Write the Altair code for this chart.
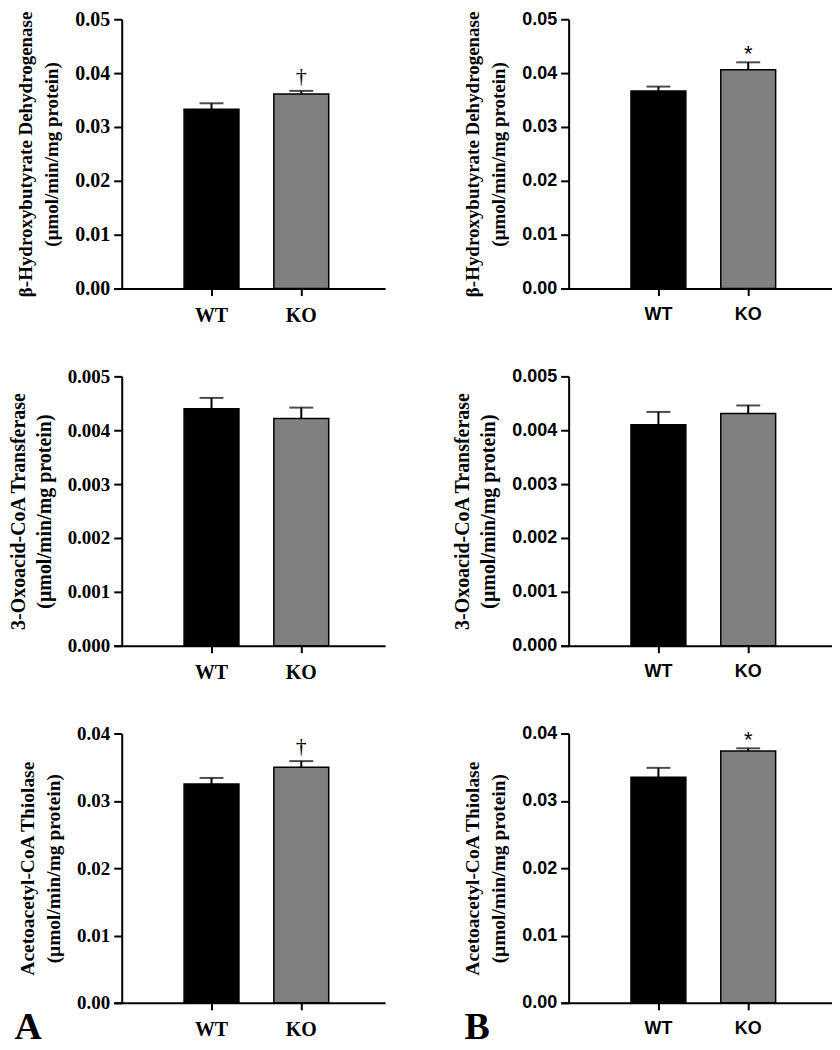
import altair as alt
import pandas as pd

groups = ["WT", "KO"]
bar_colors = ["#000000", "#808080"]

# Row 1: beta-hydroxybutyrate dehydrogenase
a_bdh_mean = [0.0333, 0.0361]
a_bdh_sem = [0.0011, 0.0006]
a_bdh_sig = ["", "†"]
b_bdh_mean = [0.0367, 0.0406]
b_bdh_sem = [0.0008, 0.0014]
b_bdh_sig = ["", "*"]

# Row 2: 3-oxoacid-CoA transferase
a_scot_mean = [0.00440, 0.00422]
a_scot_sem = [0.00020, 0.00020]
a_scot_sig = ["", ""]
b_scot_mean = [0.00410, 0.00431]
b_scot_sem = [0.00024, 0.00015]
b_scot_sig = ["", ""]

# Row 3: acetoacetyl-CoA thiolase
a_thl_mean = [0.0325, 0.0350]
a_thl_sem = [0.0009, 0.0009]
a_thl_sig = ["", "†"]
b_thl_mean = [0.0335, 0.0374]
b_thl_sem = [0.0014, 0.0004]
b_thl_sig = ["", "*"]

row1_ticks = [0.0, 0.01, 0.02, 0.03, 0.04, 0.05]
row2_ticks = [0.0, 0.001, 0.002, 0.003, 0.004, 0.005]
row3_ticks = [0.0, 0.01, 0.02, 0.03, 0.04]

row1_title = ["β-Hydroxybutyrate Dehydrogenase", "(μmol/min/mg protein)"]
row2_title = ["3-Oxoacid-CoA Transferase", "(μmol/min/mg protein)"]
row3_title = ["Acetoacetyl-CoA Thiolase", "(μmol/min/mg protein)"]

W = 272
H = 270
STEP = 90.0
BW = 55.0
p_inner = 1 - BW / STEP
p_outer = (W / STEP - 2 + p_inner) / 2
b_align = (98 - BW / 2) / (W - STEP * (2 - p_inner))


def panel(means, sems, sig, ticks, fmt, title_lines, style, title_size, label_size, corner=None):
    df = pd.DataFrame({
        "group": groups,
        "mean": means,
        "top": [m + s for m, s in zip(means, sems)],
        "sig": sig,
    })
    serif = style == "A"
    lab_font = "Liberation Serif" if serif else "Liberation Sans"
    xl_size = 20 if serif else 18

    xaxis_kw = dict(
        labelAngle=0, labelFont=lab_font, labelFontSize=xl_size, labelFontWeight="bold",
        labelColor="black", labelPadding=10, tickSize=7, tickWidth=2, tickColor="black",
        domainColor="black", domainWidth=2,
    )
    if corner:
        xaxis = alt.Axis(title=corner, titleFont="Liberation Serif", titleFontSize=38,
                         titleFontWeight="bold", titleColor="black", titleAngle=0,
                         titleAlign="left", titleBaseline="alphabetic",
                         titleX=-100 if serif else -97, titleY=36, **xaxis_kw)
    else:
        xaxis = alt.Axis(title=None, **xaxis_kw)

    yaxis = alt.Axis(
        values=ticks, format=fmt, title=title_lines, titleFont="Liberation Serif",
        titleFontSize=title_size, titleFontWeight="bold", titleColor="black",
        titlePadding=13, titleLineHeight=26,
        labelFont=lab_font, labelFontSize=label_size, labelFontWeight="bold",
        labelColor="black", labelPadding=4, tickSize=8, tickWidth=2, tickColor="black",
        domainColor="black", domainWidth=2, grid=False, offset=-8,
    )
    xscale = alt.Scale(domain=groups, paddingInner=p_inner, paddingOuter=p_outer, align=b_align)
    yscale = alt.Scale(domain=[ticks[0], ticks[-1]], nice=False, zero=True)

    x_enc = alt.X("group:N", scale=xscale, axis=xaxis, sort=groups)
    base = alt.Chart(df)
    bars = base.mark_bar(stroke="black", strokeWidth=1.5).encode(
        x=x_enc,
        y=alt.Y("mean:Q", scale=yscale, axis=yaxis),
        color=alt.Color("group:N", scale=alt.Scale(domain=groups, range=bar_colors), legend=None),
    )
    stem = base.mark_rule(color="black", strokeWidth=2).encode(
        x=x_enc, y=alt.Y("mean:Q", scale=yscale, axis=yaxis), y2="top:Q"
    )
    cap = base.mark_tick(color="black", size=24, thickness=2).encode(
        x=x_enc, y=alt.Y("top:Q", scale=yscale, axis=yaxis)
    )
    if serif:
        txt = base.mark_text(font="Liberation Serif", fontSize=22, baseline="alphabetic", dy=-8, color="black")
    else:
        txt = base.mark_text(font="Liberation Sans", fontSize=22, baseline="alphabetic", dy=-1, color="black")
    marks = txt.encode(x=x_enc, y=alt.Y("top:Q", scale=yscale, axis=yaxis), text="sig:N")
    return alt.layer(bars, stem, cap, marks).properties(width=W, height=H)


a1 = panel(a_bdh_mean, a_bdh_sem, a_bdh_sig, row1_ticks, ".2f", row1_title, "A", 19, 20)
b1 = panel(b_bdh_mean, b_bdh_sem, b_bdh_sig, row1_ticks, ".2f", row1_title, "B", 19, 18)
a2 = panel(a_scot_mean, a_scot_sem, a_scot_sig, row2_ticks, ".3f", row2_title, "A", 20, 19)
b2 = panel(b_scot_mean, b_scot_sem, b_scot_sig, row2_ticks, ".3f", row2_title, "B", 20, 18)
a3 = panel(a_thl_mean, a_thl_sem, a_thl_sig, row3_ticks, ".2f", row3_title, "A", 19.5, 19, corner="A")
b3 = panel(b_thl_mean, b_thl_sem, b_thl_sig, row3_ticks, ".2f", row3_title, "B", 19.5, 18, corner="B")

chart = alt.concat(
    a1, b1, a2, b2, a3, b3, columns=2,
    spacing={"row": 88, "column": 176}, bounds="flush",
).configure_view(stroke=None).properties(padding=0, background="white")

chart.save("out.html", embed_options={"renderer": "svg", "actions": False})
